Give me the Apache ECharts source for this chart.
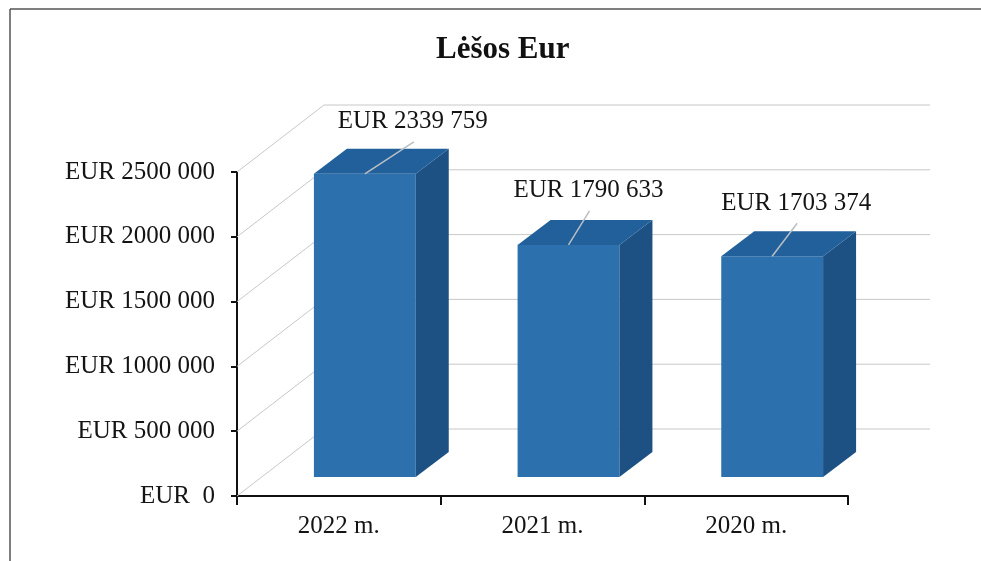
<!DOCTYPE html>
<html>
<head>
<meta charset="utf-8">
<script src="https://cdn.jsdelivr.net/npm/echarts@6/dist/echarts.min.js"></script>
<style>
  html, body { margin: 0; padding: 0; background: #fff; }
  #chart { width: 981px; height: 561px; }
</style>
</head>
<body>
<div id="chart"></div>
<script>
const categories = ["2022 m.", "2021 m.", "2020 m."];
const values = [2339759, 1790633, 1703374];
const yTicks = [0, 500000, 1000000, 1500000, 2000000, 2500000];
const yTickLabels = ["EUR  0", "EUR 500 000", "EUR 1000 000", "EUR 1500 000", "EUR 2000 000", "EUR 2500 000"];

// label offset from bar's front-top centre (Excel moved them by hand)
const labelShift = [[50, -52], [22, -54], [26, -53]];

const FONT = "Liberation Serif, Times New Roman, serif";
const DEPTH = [87, -67];      // back wall offset
const BAR_FRONT = [26, -19];  // bar front face offset
const BAR_DEPTH = [33, -25];  // bar thickness

function fmt(v) {
  let s = String(v);
  if (s.length > 3) s = s.slice(0, -3) + " " + s.slice(-3);
  return "EUR " + s;
}

let element = document.getElementById("chart");
let myChart = echarts.init(element, null, { renderer: "canvas" });

const wallItem = (params, api) => {
  const cs = params.coordSys;
  const y = api.coord([0, api.value(1)])[1];
  const x0 = cs.x;
  const x1 = cs.x + cs.width - 5;
  const lineStyle = { stroke: "#c8c8c8", lineWidth: 1 };
  return {
    type: "group",
    children: [
      { type: "line", shape: { x1: x0, y1: y, x2: x0 + DEPTH[0], y2: y + DEPTH[1] }, style: lineStyle },
      { type: "line", shape: { x1: x0 + DEPTH[0], y1: y + DEPTH[1], x2: x1 + DEPTH[0], y2: y + DEPTH[1] }, style: lineStyle }
    ]
  };
};

const barItem = (params, api) => {
  const i = api.value(0);
  const v = api.value(1);
  const top = api.coord([i, v]);
  const base = api.coord([i, 0]);
  const bw = api.size([1, 0])[0] * 0.5;
  const cx = top[0] + BAR_FRONT[0];
  const l = cx - bw / 2;
  const r = cx + bw / 2;
  const t = top[1] + BAR_FRONT[1];
  const b = base[1] + BAR_FRONT[1];
  const dx = BAR_DEPTH[0], dy = BAR_DEPTH[1];
  const sh = labelShift[params.dataIndex];
  const lx = cx + sh[0] - 2;
  const ly = t + sh[1];
  return {
    type: "group",
    children: [
      { type: "rect", shape: { x: l, y: t, width: bw, height: b - t }, style: { fill: "#2C70AE" } },
      { type: "polygon", shape: { points: [[r, t], [r + dx, t + dy], [r + dx, b + dy], [r, b]] }, style: { fill: "#1E5183" } },
      { type: "polygon", shape: { points: [[l, t], [l + dx, t + dy], [r + dx, t + dy], [r, t]] }, style: { fill: "#21609A" } },
      { type: "line", shape: { x1: cx, y1: t, x2: lx + 1, y2: ly + 20 }, style: { stroke: "#b9bec4", lineWidth: 1.5 } },
      { type: "text", style: { text: fmt(v), x: lx, y: ly, align: "center", verticalAlign: "middle", fill: "#141414", font: "25px " + FONT } }
    ]
  };
};

let option = {
  animation: false,
  backgroundColor: "#fff",
  title: {
    text: "Lėšos Eur",
    left: 431,
    top: 29,
    textStyle: { fontFamily: FONT, fontWeight: "bold", fontSize: 31, color: "#111" }
  },
  grid: { left: 237, right: 133, top: 172, bottom: 65 },
  xAxis: {
    type: "category",
    data: categories,
    axisLine: { show: true, lineStyle: { color: "#111", width: 2 } },
    axisTick: { show: true, alignWithLabel: false, interval: 0, length: 9, lineStyle: { color: "#111", width: 2 } },
    axisLabel: { margin: 18, fontFamily: FONT, fontSize: 25, color: "#141414" }
  },
  yAxis: {
    type: "value",
    min: 0,
    max: 2500000,
    interval: 500000,
    splitLine: { show: false },
    axisLine: { show: true, lineStyle: { color: "#111", width: 2 } },
    axisTick: { show: true, length: 6, lineStyle: { color: "#111", width: 2 } },
    axisLabel: {
      margin: 22,
      fontFamily: FONT,
      fontSize: 25,
      color: "#141414",
      formatter: (v) => yTickLabels[yTicks.indexOf(v)]
    }
  },
  graphic: [
    { type: "line", shape: { x1: 10, y1: 9, x2: 981, y2: 9 }, style: { stroke: "#555", lineWidth: 1.5 } },
    { type: "line", shape: { x1: 10, y1: 9, x2: 10, y2: 561 }, style: { stroke: "#555", lineWidth: 1.5 } }
  ],
  series: [
    {
      type: "custom",
      clip: false,
      silent: true,
      z: 1,
      renderItem: wallItem,
      data: yTicks.map((t) => [0, t])
    },
    {
      type: "custom",
      clip: false,
      z: 3,
      renderItem: barItem,
      data: values.map((v, i) => [i, v])
    }
  ]
};
option && myChart.setOption(option);
window.addEventListener("resize", myChart.resize);
</script>
</body>
</html>
